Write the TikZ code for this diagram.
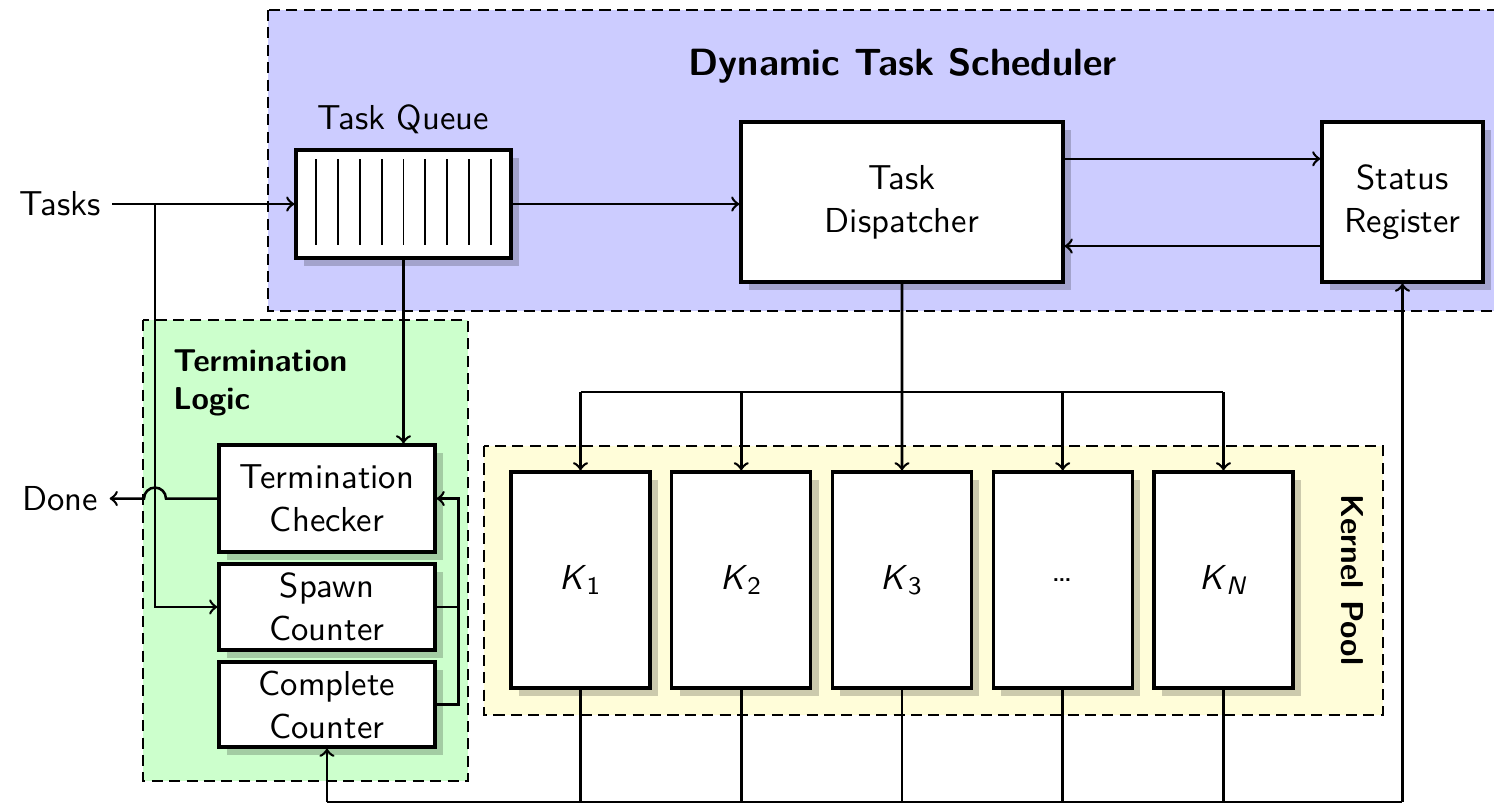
\documentclass[tikz,border=0pt]{standalone}
\usepackage{tikz}
\usetikzlibrary{calc,positioning,shadows}
\renewcommand{\familydefault}{\sfdefault}

\tikzset{
  block/.style={draw, fill=white, line width=1pt, align=center, inner sep=2pt,
    drop shadow={shadow xshift=2.5pt, shadow yshift=-2.5pt, fill=black, opacity=0.2}},
  region/.style={semithick, dash pattern=on 3.5pt off 2pt},
}

\begin{document}
\begin{tikzpicture}[thick, font=\fontsize{10.95}{13.6}\selectfont]
  %%%%% START %%%%%
  \useasboundingbox (0,0) rectangle (16.6,-8.911);

  % shaded areas
  \draw[region, fill=blue!20] (2.978,-0.111) rectangle (17,-3.456);
  \draw[region, fill=green!20] (1.589,-3.556) rectangle (5.2,-8.678);
  \draw[region, fill=yellow!15] (5.378,-4.956) rectangle (15.367,-7.944);

  \node[font={\fontsize{12}{14.5}\selectfont\bfseries}] (schedtitle) at (10.03,-0.733) {Dynamic Task Scheduler};
  \node[font=\bfseries, align=left, anchor=west] (termtitle) at (1.794,-4.256) {Termination\\Logic};
  \node[font=\bfseries, rotate=-90] (pooltitle) at (15.022,-6.444) {Kernel Pool};

  % scheduler
  \node[block, minimum width=2.389cm, minimum height=1.2cm] (queue) at (4.483,-2.267) {};
  \foreach \i in {1,...,9}
    \draw[semithick] ($(queue.north west)!\i/10!(queue.north east)+(0,-0.122)$) -- ++(0,-0.956);
  \node[above=1pt of queue] (queuelabel) {Task Queue};

  \node[block, minimum width=3.578cm, minimum height=1.778cm] (disp) at (10.022,-2.244) {Task\\Dispatcher};
  \node[block, minimum width=1.789cm, minimum height=1.778cm] (status) at (15.583,-2.244) {Status\\Register};

  \node (tasks) at (0.667,-2.267) {Tasks};
  \coordinate (split) at (1.722,-2.267);

  % termination logic
  \node[block, minimum width=2.4cm, minimum height=1.189cm] (checker) at (3.633,-5.539) {Termination\\Checker};
  \node[block, minimum width=2.4cm, minimum height=0.956cm] (spawn) at (3.633,-6.744) {Spawn\\Counter};
  \node[block, minimum width=2.4cm, minimum height=0.944cm] (complete) at (3.633,-7.828) {Complete\\Counter};
  \node (done) at (0.667,-5.539) {Done};

  % kernel pool
  \foreach \i/\klabel in {1/\textit{K}\textsubscript{1}, 2/\textit{K}\textsubscript{2},
      3/\textit{K}\textsubscript{3}, 4/\dots, 5/\textit{K}\textsubscript{\textit{N}}}
    \node[block, minimum width=1.544cm, minimum height=2.4cm] (k\i) at ({6.45+1.786*(\i-1)},-6.444) {\klabel};

  % connectors
  \draw[->] (tasks) -- (queue);
  \draw[->] (split) |- (spawn.west);
  \draw[->] (queue.east) -- (queue.east -| disp.west);
  \draw[->] ([yshift=0.48cm]disp.east) -- ([yshift=0.48cm]status.west);
  \draw[->] ([yshift=-0.49cm]status.west) -- ([yshift=-0.49cm]disp.east);
  \draw[->] (queue.south) -- (queue.south |- checker.north);
  \draw[->] (checker.west) -- ($(split |- checker.west)+(0.122,0)$) arc (0:180:0.122) -- (done.east);
  \draw (spawn.east) -- ++(0.244,0);
  \draw[->] (complete.east) -- ++(0.244,0) |- (checker.east);

  % fan-out to the kernels
  \coordinate (fan) at (10.022,-4.356);
  \draw[->] (disp.south) -- (k3.north);
  \draw (k1.north |- fan) -- (k5.north |- fan);
  \foreach \i in {1,2,4,5}
    \draw[->] (k\i.north |- fan) -- (k\i.north);

  % results back along the bottom
  \coordinate (bus) at (0,-8.911);
  \foreach \i in {1,...,5}
    \draw (k\i.south) -- (k\i.south |- bus);
  \draw (complete.south |- bus) -- (status.south |- bus);
  \draw[->] (complete.south |- bus) -- (complete.south);
  \draw[->] (status.south |- bus) -- (status.south);
  %%%%% END %%%%%
\end{tikzpicture}
\end{document}
